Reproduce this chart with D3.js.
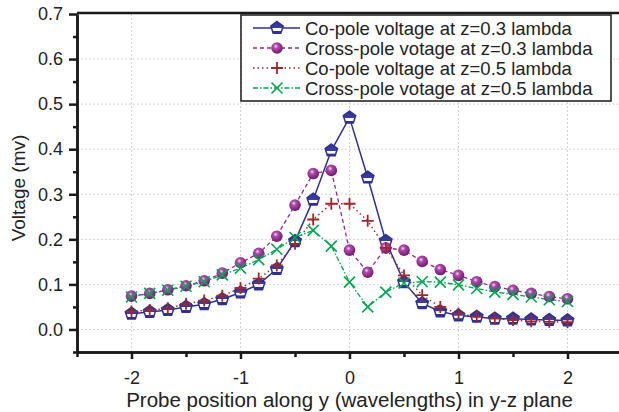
<!DOCTYPE html>
<html lang="en">
<head>
  <meta charset="UTF-8">
  <title>Probe voltage</title>
<style>
    body { margin: 0; background: #fff; }
    #chart { display: block; }
    text { font-family: "Liberation Sans", Arial, sans-serif; fill: #222; }
  </style>
</head>
<body>
<svg id="chart" width="619" height="412"></svg>
<script src="https://d3js.org/d3.v7.min.js"></script>
<script>
    // Data
    const positions = [-2, -1.833, -1.667, -1.5, -1.333, -1.167, -1, -0.833, -0.667, -0.5, -0.333, -0.167,
      0, 0.167, 0.333, 0.5, 0.667, 0.833, 1, 1.167, 1.333, 1.5, 1.667, 1.833, 2];

    const coPole03 = [0.035, 0.039, 0.043, 0.050, 0.056, 0.067, 0.082, 0.100, 0.134, 0.196, 0.288, 0.397,
      0.470, 0.337, 0.196, 0.105, 0.058, 0.040, 0.031, 0.028, 0.024, 0.024, 0.022, 0.021, 0.020];
    const crossPole03 = [0.074, 0.080, 0.088, 0.097, 0.108, 0.125, 0.148, 0.169, 0.207, 0.276, 0.346, 0.353,
      0.176, 0.127, 0.181, 0.176, 0.151, 0.133, 0.120, 0.106, 0.095, 0.087, 0.080, 0.073, 0.068];
    const coPole05 = [0.040, 0.043, 0.047, 0.057, 0.064, 0.075, 0.092, 0.113, 0.142, 0.190, 0.244, 0.279,
      0.279, 0.241, 0.181, 0.120, 0.076, 0.050, 0.035, 0.028, 0.024, 0.021, 0.018, 0.017, 0.016];
    const crossPole05 = [0.072, 0.080, 0.087, 0.096, 0.106, 0.121, 0.136, 0.155, 0.178, 0.204, 0.220, 0.185,
      0.105, 0.050, 0.083, 0.103, 0.106, 0.105, 0.099, 0.091, 0.083, 0.078, 0.072, 0.066, 0.062];

    const seriesNames = ['Co-pole voltage at z=0.3 lambda', 'Cross-pole votage at z=0.3 lambda',
      'Co-pole voltage at z=0.5 lambda', 'Cross-pole votage at z=0.5 lambda'];

    const xTicks = [-2, -1, 0, 1, 2];
    const xMinor = [-2.5, -1.5, -0.5, 0.5, 1.5, 2.5];
    const yTicks = [0, 0.1, 0.2, 0.3, 0.4, 0.5, 0.6, 0.7];
    const yMinor = [-0.05, 0.05, 0.15, 0.25, 0.35, 0.45, 0.55, 0.65];

    const series = [
      { name: seriesNames[0], values: coPole03, color: '#2e3192', dash: null, width: 1.5, marker: 'pentagon' },
      { name: seriesNames[1], values: crossPole03, color: '#93278f', dash: '4,3', width: 1.3, marker: 'sphere' },
      { name: seriesNames[2], values: coPole05, color: '#a3262a', dash: '1.5,3', width: 1.4, marker: 'plus' },
      { name: seriesNames[3], values: crossPole05, color: '#00a651', dash: '5,2,1.5,2', width: 1.3, marker: 'cross' }
    ];

    // Layout
    const plotLeft = 77, plotRight = 622, plotTop = 14, plotBottom = 352;

    const x = d3.scaleLinear().domain([-2.5, 2.5]).range([plotLeft, plotRight]);
    const y = d3.scaleLinear().domain([-0.05, 0.7]).range([plotBottom, plotTop]);

    const svg = d3.select('#chart');

    // Gradients for markers
    const defs = svg.append('defs');
    const pg = defs.append('linearGradient').attr('id', 'pent').attr('x1', 0).attr('y1', 0).attr('x2', 0).attr('y2', 1);
    pg.append('stop').attr('offset', '0%').attr('stop-color', '#2e3192');
    pg.append('stop').attr('offset', '55%').attr('stop-color', '#3a3f9f');
    pg.append('stop').attr('offset', '56%').attr('stop-color', '#ffffff');
    pg.append('stop').attr('offset', '80%').attr('stop-color', '#ffffff');
    pg.append('stop').attr('offset', '81%').attr('stop-color', '#2e3192');
    const sg = defs.append('radialGradient').attr('id', 'sph').attr('cx', '40%').attr('cy', '35%').attr('r', '65%');
    sg.append('stop').attr('offset', '0%').attr('stop-color', '#f4d6f2');
    sg.append('stop').attr('offset', '30%').attr('stop-color', '#b04aac');
    sg.append('stop').attr('offset', '100%').attr('stop-color', '#6e1a6b');

    // Grid
    const grid = svg.append('g').attr('stroke', '#d4d4d4').attr('stroke-width', 1).attr('stroke-dasharray', '2,2');
    grid.selectAll('.gx').data(xTicks).enter().append('line')
      .attr('x1', d => x(d)).attr('x2', d => x(d)).attr('y1', plotTop).attr('y2', plotBottom);
    grid.selectAll('.gy').data(yTicks.slice(0, -1)).enter().append('line')
      .attr('x1', plotLeft).attr('x2', plotRight).attr('y1', d => y(d)).attr('y2', d => y(d));

    // Lines
    const line = d3.line().x((d, i) => x(positions[i])).y(d => y(d));
    const plot = svg.append('g');
    series.forEach(s => {
      plot.append('path')
        .datum(s.values)
        .attr('fill', 'none')
        .attr('stroke', s.color)
        .attr('stroke-width', s.width)
        .attr('stroke-dasharray', s.dash)
        .attr('d', line);
    });

    // Markers
    function pentagonPath(r) {
      const pts = d3.range(5).map(k => {
        const a = (-90 + k * 72) * Math.PI / 180;
        return [r * Math.cos(a), r * Math.sin(a)];
      });
      return 'M' + pts.map(p => p.join(',')).join('L') + 'Z';
    }

    function drawMarker(g, s) {
      if (s.marker === 'pentagon') {
        g.append('path').attr('d', pentagonPath(6.5))
          .attr('fill', 'url(#pent)').attr('stroke', s.color).attr('stroke-width', 1.5);
      } else if (s.marker === 'sphere') {
        g.append('circle').attr('r', 5.8).attr('fill', 'url(#sph)');
      } else if (s.marker === 'plus') {
        g.append('path').attr('d', 'M-6,0H6M0,-6V6')
          .attr('stroke', s.color).attr('stroke-width', 1.8);
      } else {
        g.append('path').attr('d', 'M-5.5,-5.5L5.5,5.5M-5.5,5.5L5.5,-5.5')
          .attr('stroke', s.color).attr('stroke-width', 1.6);
      }
    }

    series.forEach(s => {
      plot.selectAll(null)
        .data(s.values)
        .enter().append('g')
        .attr('transform', (d, i) => `translate(${x(positions[i])},${y(d)})`)
        .each(function() { drawMarker(d3.select(this), s); });
    });

    // Axes
    const yAxis = d3.axisLeft(y).tickValues(yTicks).tickSize(8).tickSizeOuter(0).tickPadding(6)
      .tickFormat(d3.format('.1f'));
    const yAxisMinor = d3.axisLeft(y).tickValues(yMinor).tickSize(4).tickSizeOuter(0).tickFormat('');
    const xAxis = d3.axisBottom(x).tickValues(xTicks).tickSize(7).tickSizeOuter(0).tickPadding(12)
      .tickFormat(d => String(d));
    const xAxisMinor = d3.axisBottom(x).tickValues(xMinor).tickSize(5).tickSizeOuter(0).tickFormat('');

    function styleAxis(g) {
      g.selectAll('path, line').attr('stroke', '#1a1a1a').attr('stroke-width', 2.5);
      g.selectAll('text').style('font-size', '18px').attr('fill', '#222');
    }

    svg.append('g').attr('transform', `translate(${plotLeft},0)`).call(yAxisMinor).call(styleAxis);
    svg.append('g').attr('transform', `translate(${plotLeft},0)`).call(yAxis).call(styleAxis);
    svg.append('g').attr('transform', `translate(0,${plotBottom})`).call(xAxisMinor).call(styleAxis);
    svg.append('g').attr('transform', `translate(0,${plotBottom})`).call(xAxis).call(styleAxis);

    // top frame
    svg.append('line').attr('x1', plotLeft).attr('x2', plotRight).attr('y1', plotTop - 1).attr('y2', plotTop - 1)
      .attr('stroke', '#1a1a1a').attr('stroke-width', 2.5);

    // Axis titles
    svg.append('text')
      .attr('transform', 'translate(25,188) rotate(-90)')
      .attr('text-anchor', 'middle')
      .style('font-size', '19px')
      .text('Voltage (mv)');
    svg.append('text')
      .attr('x', x(0)).attr('y', 407)
      .attr('text-anchor', 'middle')
      .style('font-size', '20.5px')
      .text('Probe position along y (wavelengths) in y-z plane');

    // Legend
    const legend = svg.append('g');
    legend.append('rect').attr('x', 241).attr('y', 15).attr('width', 370).attr('height', 86)
      .attr('fill', '#fff').attr('stroke', '#1a1a1a').attr('stroke-width', 1.5);
    series.forEach((s, i) => {
      const row = legend.append('g').attr('transform', `translate(0,${28 + i * 20})`);
      row.append('line').attr('x1', 253).attr('x2', 300).attr('y1', 0).attr('y2', 0)
        .attr('stroke', s.color).attr('stroke-width', s.width).attr('stroke-dasharray', s.dash);
      drawMarker(row.append('g').attr('transform', 'translate(277,0)'), s);
      row.append('text').attr('x', 305).attr('y', 6.5).style('font-size', '18.5px').text(s.name);
    });
  </script>
</body>
</html>
